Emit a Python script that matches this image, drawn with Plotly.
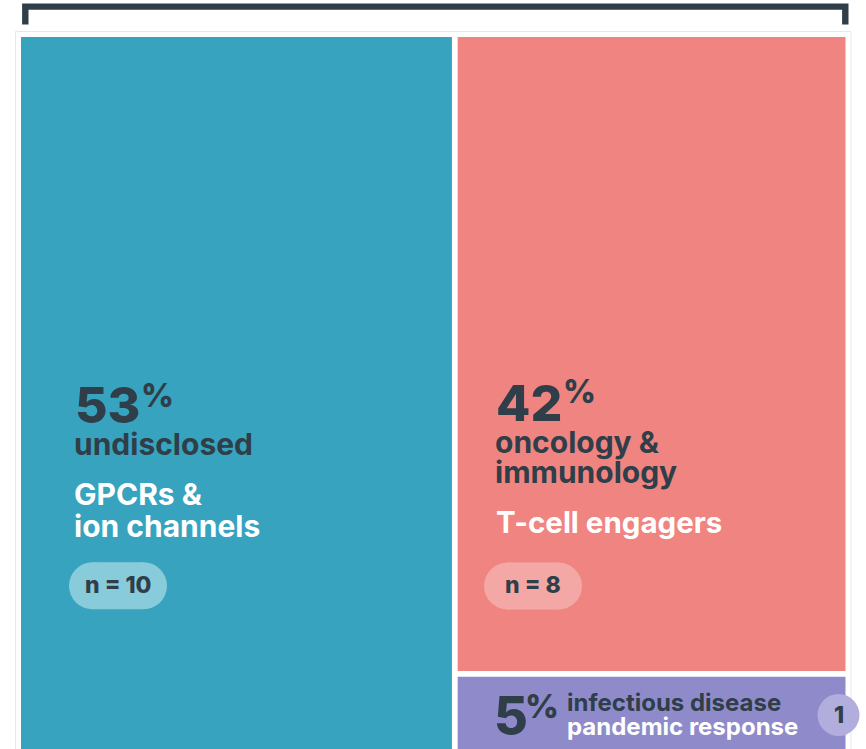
import plotly.graph_objects as go

# ---------------- data ----------------
COUNTS = [10, 8, 1]
SHARE_LABELS = ["53", "42", "5"]
AREA_LABELS = ["undisclosed", "oncology &|immunology", "infectious disease"]
MODALITY_LABELS = ["GPCRs &|ion channels", "T-cell engagers", "pandemic response"]
N_LABELS = ["n = 10", "n = 8", "1"]

# ---------------- style ----------------
TILE_COLORS = ["#38A3BE", "#F08480", "#8F8BCB"]
PILL_COLORS = ["#88CBDB", "#F4A8A6", "#B1AEDD"]
DARK = "#2F3E48"
FONT = "Inter"

W, H, GAP = 824.5, 719.0, 5.7   # treemap extent (data units = px)
OX, OY = 21, 37                  # page offset of the treemap origin
PAGE_PAD = 0                     # body margin removed via post_script


def X(px):
    return px - OX


def Y(py):
    return py - OY


# ---------- layout of the cells from the counts ----------
total = sum(COUNTS)
w_left = (W - GAP) * COUNTS[0] / total
x_right = w_left + GAP
right_total = COUNTS[1] + COUNTS[2]
h_top = (H - GAP) * COUNTS[1] / right_total
cells = [
    (0, 0, w_left, H),
    (x_right, 0, W, h_top),
    (x_right, h_top + GAP, W, H),
]

shapes = []
# card border
shapes.append(dict(type="rect", xref="x", yref="y", x0=X(15.5), x1=X(851), y0=Y(31.5), y1=Y(800),
                   line=dict(color="#E8E8E8", width=1), fillcolor="rgba(0,0,0,0)", layer="below"))
# bracket
shapes.append(dict(type="path", xref="x", yref="y",
                   path=f"M {X(25.3)},{Y(24.5)} V {Y(6.6)} H {X(845.3)} V {Y(24.5)}",
                   line=dict(color=DARK, width=6.4)))
for (x0, y0, x1, y1), c in zip(cells, TILE_COLORS):
    shapes.append(dict(type="rect", xref="x", yref="y", x0=x0, x1=x1, y0=y0, y1=y1,
                       line=dict(width=0), fillcolor=c, layer="below"))


def pill(cx, cy, w, h, color):
    r = h / 2
    out = [dict(type="rect", xref="x", yref="y", x0=X(cx - w / 2 + r), x1=X(cx + w / 2 - r),
                y0=Y(cy - r), y1=Y(cy + r), line=dict(width=0), fillcolor=color)]
    for ex in (cx - w / 2 + r, cx + w / 2 - r):
        out.append(dict(type="circle", xref="x", yref="y", x0=X(ex - r), x1=X(ex + r),
                        y0=Y(cy - r), y1=Y(cy + r), line=dict(width=0), fillcolor=color))
    return out


shapes += pill(118, 585.8, 98, 47, PILL_COLORS[0])
shapes += pill(533, 586, 98, 47, PILL_COLORS[1])
shapes.append(dict(type="circle", xref="x", yref="y", x0=X(838.5 - 21), x1=X(838.5 + 21),
                   y0=Y(715 - 21), y1=Y(715 + 21), line=dict(width=0), fillcolor=PILL_COLORS[2]))

ann = []


def text(t, px, py, size, color, weight=700, anchor="left"):
    ann.append(dict(text=t, x=X(px), y=Y(py), xref="x", yref="y", xanchor=anchor, yanchor="middle",
                    showarrow=False, font=dict(family=FONT, size=size, color=color, weight=weight)))


# teal cell
text(SHARE_LABELS[0], 73, 405, 50, DARK, 800)
text("%", 139, 395.5, 32, DARK, 800)
text(AREA_LABELS[0], 72, 443.5, 30, DARK)
for i, line in enumerate(MODALITY_LABELS[0].split("|")):
    text(line, 72, 494 + i * 31.7, 30, "white")
text(N_LABELS[0], 118, 585, 23, DARK, 800, "center")

# pink cell
a_lines = AREA_LABELS[1].split("|")
text(SHARE_LABELS[1], 494, 402.5, 50, DARK, 800)
text("%", 561, 391.5, 32, DARK, 800)
for i, line in enumerate(a_lines):
    text(line, 493, 442 + i * 30, 30, DARK)
text(MODALITY_LABELS[1], 494, 522.3, 29.5, "white")
text(N_LABELS[1], 533, 585, 23, DARK, 800, "center")

# purple cell
text(SHARE_LABELS[2], 492, 715, 52, DARK, 800)
text("%", 523, 706, 33, DARK, 800)
text(AREA_LABELS[2], 565, 702, 24, DARK)
text(MODALITY_LABELS[2], 565, 726, 24, "white")
text(N_LABELS[2], 838.5, 715, 23, DARK, 800, "center")

fig = go.Figure()
fig.add_trace(go.Scatter(x=[0], y=[0], mode="markers", marker=dict(opacity=0), hoverinfo="skip",
                         showlegend=False))
fig.update_layout(
    width=866, height=749,
    margin=dict(l=0, r=0, t=0, b=0),
    paper_bgcolor="white", plot_bgcolor="white",
    xaxis=dict(range=[X(PAGE_PAD), X(PAGE_PAD + 866)], visible=False, fixedrange=True),
    yaxis=dict(range=[Y(PAGE_PAD + 749), Y(PAGE_PAD)], visible=False, fixedrange=True),
    shapes=shapes, annotations=ann, showlegend=False,
)
fig.write_html("out.html", config={"displayModeBar": False},
               post_script="document.body.style.margin='0';document.body.style.overflow='hidden';")
